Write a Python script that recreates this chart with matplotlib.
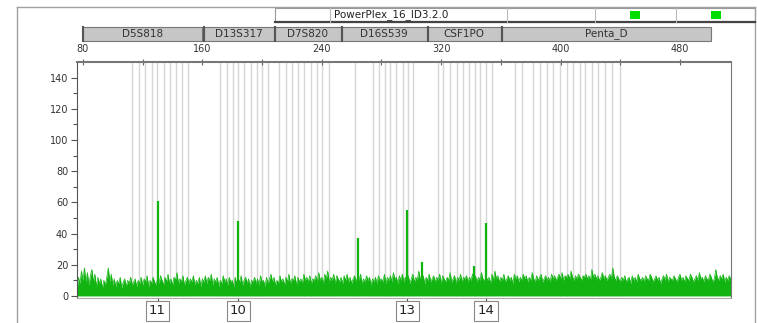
import numpy as np
import matplotlib
matplotlib.use('Agg')
import matplotlib.pyplot as plt
from matplotlib.patches import Rectangle
from matplotlib.transforms import blended_transform_factory

# panel / loci
panel_name = 'PowerPlex_16_ID3.2.0'
loci = ['D5S818', 'D13S317', 'D7S820', 'D16S539', 'CSF1PO', 'Penta_D']
loci_start = [80.3, 160.8, 208.4, 253.4, 311.1, 360.7]
loci_end = [160.1, 207.8, 252.7, 310.4, 360.0, 500.9]

# bin positions (bp)
bins = [113.2, 117.4, 121.6, 126.1, 129.8, 134.3, 138.5, 142.6, 146.4, 150.6,
        172.1, 176.3, 180.6, 184.2, 188.1, 192.3, 196.3, 200.3, 204.2,
        211.6, 215.8, 219.9, 224.3, 228.1, 232.6, 236.5, 240.5, 244.8,
        262.3, 274.5, 278.5, 282.3, 286.0, 289.8, 294.2, 297.9, 301.3,
        318.1, 321.5, 326.0, 330.4, 334.9, 338.9, 342.7, 346.1, 350.1, 353.9,
        369.5, 374.0, 381.8, 386.2, 390.8, 395.2, 399.7, 404.2, 408.6, 413.1,
        416.5, 420.9, 425.3, 429.8, 434.3, 439.8]

# baseline trace, one reading per bp from 76 bp
noise_start = 76
noise_step = 1
noise = [3, 12, 8, 16, 10, 18, 9, 15, 7, 13, 17, 9, 14, 6, 12, 8, 11, 5, 10, 7,
         12, 18, 9, 14, 7, 11, 6, 10, 8, 12, 5, 9, 11, 6, 10, 8, 12, 7, 9, 11,
         6, 10, 8, 12, 7, 11, 9, 13, 6, 10, 8, 12, 9, 7, 11, 8, 13, 10, 7, 12,
         9, 14, 8, 11, 7, 12, 10, 15, 8, 11, 9, 13, 7, 10, 12, 8, 11, 9, 13, 7,
         10, 8, 12, 6, 11, 9, 13, 8, 12, 10, 14, 7, 11, 9, 12, 6, 10, 8, 13, 9,
         11, 7, 12, 9, 10, 6, 12, 8, 11, 9, 13, 7, 10, 12, 8, 11, 6, 10, 9, 12,
         8, 11, 7, 13, 9, 10, 6, 12, 8, 11, 14, 9, 12, 7, 10, 8, 13, 9, 11, 7,
         12, 9, 14, 8, 11, 10, 13, 7, 12, 9, 11, 8, 14, 10, 12, 9, 13, 8, 11, 10,
         13, 9, 15, 10, 12, 8, 14, 11, 16, 9, 12, 10, 14, 8, 13, 11, 9, 12, 8, 13,
         10, 14, 9, 12, 8, 11, 13, 9, 12, 10, 14, 8, 11, 9, 13, 10, 12, 7, 11, 9,
         12, 8, 13, 10, 11, 9, 14, 8, 12, 10, 13, 9, 15, 11, 12, 8, 13, 10, 14, 9,
         12, 10, 13, 8, 11, 14, 9, 12, 10, 16, 11, 9, 13, 8, 12, 10, 14, 9, 11, 13,
         9, 12, 10, 14, 8, 13, 11, 9, 12, 10, 15, 9, 11, 13, 8, 12, 10, 14, 9, 12,
         11, 13, 9, 12, 10, 14, 11, 13, 9, 12, 10, 15, 11, 9, 13, 10, 12, 8, 14, 10,
         16, 11, 13, 9, 12, 10, 14, 9, 11, 13, 10, 12, 8, 14, 11, 13, 9, 12, 10, 14,
         11, 13, 9, 12, 10, 15, 11, 9, 13, 10, 12, 14, 9, 11, 13, 10, 12, 9, 14, 11,
         13, 10, 12, 14, 11, 15, 10, 13, 12, 14, 11, 16, 12, 10, 13, 11, 14, 12, 10, 13,
         12, 14, 11, 13, 10, 17, 12, 14, 11, 13, 10, 12, 15, 11, 13, 10, 12, 14, 11, 18,
         12, 10, 13, 11, 9, 12, 10, 13, 9, 11, 12, 8, 13, 10, 12, 9, 14, 11, 10, 12,
         9, 13, 11, 10, 14, 12, 9, 11, 13, 10, 12, 8, 11, 13, 10, 14, 9, 12, 11, 10,
         13, 11, 9, 12, 14, 10, 12, 9, 13, 11, 10, 14, 12, 9, 11, 13, 10, 15, 11, 12,
         9, 13, 11, 10, 14, 12, 9, 11, 17, 12, 10, 13, 11, 14, 9, 12, 10, 13, 11]

# peaks (bp, rfu)
peak_pos = [130.0, 184.2, 264.3, 297.4, 307.2, 342.0, 350.1]
peak_height = [61, 48, 37, 55, 22, 19, 47]

# called alleles
allele_pos = [130.0, 184.2, 297.4, 350.1]
allele_label = ['11', '10', '13', '14']

# off-ladder markers at locus edges
marker_pos = [80.7, 159.8, 208.0, 252.3, 309.7, 360.0, 499.7]

green = '#12b412'

fig = plt.figure(figsize=(7.57, 3.23), dpi=100)

# pixel-space overlay for frame and header
bg = fig.add_axes([0, 0, 1, 1], zorder=-1)
bg.set_xlim(0, 757)
bg.set_ylim(323, 0)
bg.axis('off')

ax = fig.add_axes([76.5 / 757, 1 - 298.3 / 323, (730.7 - 76.5) / 757, (298.3 - 62) / 323])
ax.set_xlim(75.7, 514.0)
ax.set_ylim(-1.5, 150)

# outer frame
bg.plot([17, 17], [7, 323], color='#a0a0a0', lw=1)
bg.plot([17, 755], [7, 7], color='#a0a0a0', lw=1)
bg.plot([755, 755], [7, 323], color='#a0a0a0', lw=1)

# panel header strip
bg.add_patch(Rectangle((275, 8), 480, 14, facecolor='white', edgecolor='#999', lw=0.8))
bg.plot([275, 755], [22, 22], color='#444', lw=1.6)
for sx in [330, 507, 595, 676]:
    bg.plot([sx, sx], [8, 22], color='#bbb', lw=0.8)
bg.text(334, 15, panel_name, fontsize=7.5, va='center', ha='left', color='#222')
for gx in [630, 711]:
    bg.add_patch(Rectangle((gx, 11), 10, 8, facecolor='#00dd00', edgecolor='none'))

# locus bar, x in bp, y in pixels
bt = blended_transform_factory(ax.transData, bg.transData)
for name, s, e in zip(loci, loci_start, loci_end):
    bg.add_patch(Rectangle((s, 27), e - s, 14, transform=bt, facecolor='#c6c6c6',
                           edgecolor='#777', lw=0.8, clip_on=False))
    bg.plot([s, s], [27, 41], transform=bt, color='#555', lw=1.5)
    bg.text((s + e) / 2, 34, name, transform=bt, fontsize=7.5, ha='center', va='center', color='#333')

# bins
ax.vlines(bins, 0, 150, color='#d6d6d6', lw=1, zorder=1)

# trace
noise_x = noise_start + noise_step * np.arange(len(noise))
ax.fill_between(noise_x, 0, noise, color=green, lw=0, zorder=2)
ax.plot(noise_x, noise, color=green, lw=0.5, zorder=2)
ax.vlines(peak_pos, 0, peak_height, color=green, lw=1.6, zorder=3)

# off-ladder markers
for m in marker_pos:
    bg.add_patch(Rectangle((m - 2.2, 296), 4.4, 3.2, transform=bt, facecolor='#dd1f1f',
                           edgecolor='none', clip_on=False, zorder=5))

# allele call boxes
for p, lab in zip(allele_pos, allele_label):
    bg.plot([p, p], [298, 302], transform=bt, color='#555', lw=0.8)
    bg.text(p, 311, lab, transform=bt, fontsize=9.5, ha='center', va='center', color='#222',
            bbox=dict(boxstyle='square,pad=0.25', facecolor='white', edgecolor='#888', lw=0.8))

# axes styling
ax.xaxis.tick_top()
ax.set_xticks([80, 160, 240, 320, 400, 480])
ax.set_xticks([120, 200, 280, 360, 440], minor=True)
ax.tick_params(axis='x', which='both', direction='inout', length=5, width=0.8,
               color='#666', labelsize=7, pad=3, labelcolor='#333')
ax.set_yticks(range(0, 141, 20))
ax.set_yticks(range(10, 150, 20), minor=True)
ax.tick_params(axis='y', which='major', direction='out', length=4, width=0.8,
               color='#555', labelsize=7, pad=2, labelcolor='#333')
ax.tick_params(axis='y', which='minor', direction='out', length=3, width=0.8, color='#555')
ax.spines['left'].set_color('#555')
ax.spines['top'].set_color('#777')
ax.spines['top'].set_linewidth(1.5)
ax.spines['right'].set_color('#777')
ax.spines['bottom'].set_color('#aaa')

fig.savefig('out.png', dpi=100)
